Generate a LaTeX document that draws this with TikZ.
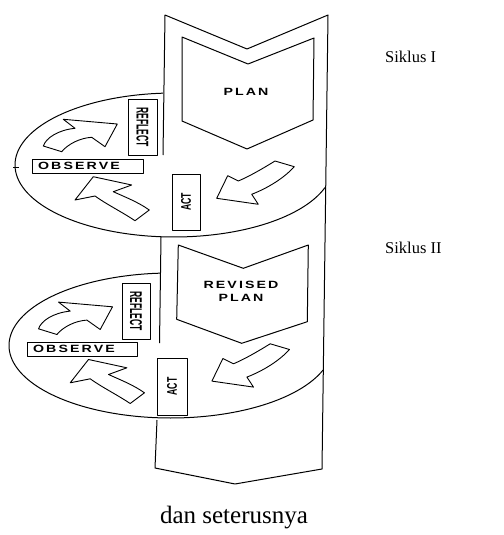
\documentclass[tikz,border=0pt]{standalone}
\usepackage{fontspec}
\setmainfont{Liberation Serif}
\newfontfamily\spacedfont[LetterSpace=15]{Liberation Sans}
\newfontfamily\narrowfont{Liberation Sans}

% the three hollow curved arrows of one cycle
\newcommand\cyclearrows{%
  \draw[hollow] (43.3,146) .. controls (46,138) and (58,130) .. (75,128.3)
    -- (63.3,119.3) -- (117.3,124) -- (105,146.7) -- (91.7,137.3)
    .. controls (80,138) and (68,144) .. (61.7,151.7) -- cycle;
  \draw[hollow] (93.3,176.7) -- (131.7,185) -- (113.3,191.7)
    .. controls (125,197) and (138,202) .. (149.3,210) -- (135,220.7)
    .. controls (122,212) and (106,204) .. (95,196) -- (75,200) -- cycle;
  \draw[hollow] (275,161) .. controls (262,169) and (250,176) .. (238.3,181)
    -- (227.7,175.7) -- (216.7,198.3) -- (258.3,204.3) -- (251.7,194.3)
    .. controls (268,188) and (284,178) .. (294.3,166.7) -- cycle;
}

\begin{document}
\begin{tikzpicture}[x=1pt,y=-1pt,line join=round,
  outline/.style={draw=black,line width=1pt},
  hollow/.style={draw=black,line width=0.9pt},
  obsbox/.style={draw=black,line width=0.9pt,fill=white,text width=99pt,
    inner xsep=6pt,inner ysep=0pt,minimum height=14pt,align=left,
    font=\spacedfont\bfseries\fontsize{10.5}{11}\selectfont},
  upbox/.style={draw=black,line width=0.9pt,fill=white,inner sep=0pt,
    minimum width=56pt,minimum height=29pt,
    font=\narrowfont\bfseries\fontsize{17}{17}\selectfont},
  actbox/.style={draw=black,line width=0.9pt,fill=white,inner sep=0pt,
    minimum width=56pt,minimum height=28pt,
    font=\narrowfont\bfseries\fontsize{14}{14}\selectfont},
  plantext/.style={font=\spacedfont\bfseries\fontsize{10.5}{13.5}\selectfont,
    align=center,inner sep=0pt},
  sidelabel/.style={font=\fontsize{16.5}{20}\selectfont,anchor=west,inner sep=0pt}]
\useasboundingbox (0,0) rectangle (503,535);

% outer column with its notched top and pointed foot
\draw[outline] (163,155) -- (165,15) -- (247,49) -- (328,15) -- (322,469)
  -- (235,484) -- (155,468) -- (157,420);
\draw[outline] (161,237) -- (159.5,343);

% first cycle
\draw[outline] plot[domain=266:18.3,samples=120]
  ({174+159*cos(\x)},{165+72*sin(\x)});
\draw[outline] (13,167) -- (19,167);
\draw[outline] (182,37) -- (248,64) -- (314,38) -- (313,120) -- (247,149)
  -- (182,121) -- cycle;
\node[plantext] (plan) at (246,92) {\scalebox{1.35}[1]{PLAN}};
\node[upbox,rotate=-90] (reflect1) at (142.5,127)
  {\scalebox{0.5}[1]{REFLECT}};
\node[obsbox] (observe1) at (87.5,166) {\scalebox{1.35}[1]{OBSERVE}};
\node[actbox,rotate=90] (act1) at (186,202) {\scalebox{0.62}[1]{ACT}};
\cyclearrows

% second cycle
\draw[outline] plot[domain=266.2:19.8,samples=120]
  ({170.8+161.8*cos(\x)},{345.5+72.5*sin(\x)});
\draw[outline] (178.3,245) -- (243.3,268.3) -- (308.3,245) -- (307.3,321.7)
  -- (241.7,343.3) -- (176.7,319.3) -- cycle;
\node[plantext] (revised) at (241,291.5)
  {\scalebox{1.35}[1]{REVISED}\\\scalebox{1.35}[1]{PLAN}};
\node[upbox,rotate=-90,minimum height=28pt] (reflect2) at (136,311)
  {\scalebox{0.5}[1]{REFLECT}};
\node[obsbox,text width=98pt] (observe2) at (82,349) {\scalebox{1.35}[1]{OBSERVE}};
\node[actbox,rotate=90,minimum height=30pt,minimum width=57pt] (act2)
  at (172,386.5) {\scalebox{0.62}[1]{ACT}};
\begin{scope}[shift={(-4.8,182.8)}]
  \cyclearrows
\end{scope}

% side labels and caption
\node[sidelabel] (s1) at (385,57) {Siklus I};
\node[sidelabel] (s2) at (385,248) {Siklus II};
\node[font=\fontsize{25}{28}\selectfont,inner sep=0pt] (more) at (234,518)
  {dan seterusnya};
\end{tikzpicture}
\end{document}
